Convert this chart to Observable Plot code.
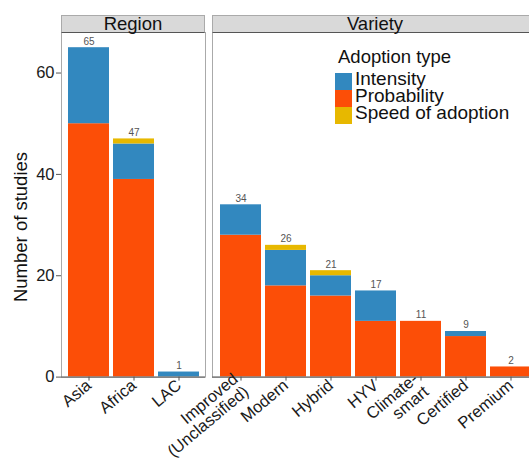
<!DOCTYPE html>
<html>
<head>
<meta charset="utf-8">
<script src="https://cdn.jsdelivr.net/npm/d3@7"></script>
<script src="https://cdn.jsdelivr.net/npm/@observablehq/plot@0.6"></script>
<style>
  html, body { margin: 0; padding: 0; background: #fff; overflow: hidden; }
  #wrap { position: relative; width: 529px; height: 458px; overflow: hidden; font-family: "Liberation Sans", Arial, sans-serif; color: #111; }
  #wrap > svg { position: absolute; top: 0; left: 0; max-width: none !important; }
  .strip { position: absolute; top: 15px; height: 18px; background: #d9d9d9; border: 1px solid #aaa; border-bottom: 1px solid #555; box-sizing: border-box; text-align: center; font-size: 18.5px; line-height: 16px; color: #111; white-space: nowrap; }
  .abs { position: absolute; white-space: nowrap; }
  .ytitle { left: -79px; top: 216px; width: 200px; height: 22px; line-height: 22px; text-align: center; font-size: 18.5px; transform: rotate(-90deg); }
  .ltitle { left: 338px; top: 48px; font-size: 18.5px; line-height: 18.5px; }
  .lrow { left: 335px; height: 17px; font-size: 19px; line-height: 17px; }
  .lrow .sw { position: absolute; left: 0; top: 3px; width: 17px; height: 16.5px; }
  .lrow .lab { position: absolute; left: 20px; top: 0; }
</style>
</head>
<body>
<div id="wrap"></div>
<script>
// ---- data ----
const adoptionTypes = ["Intensity", "Probability", "Speed of adoption"];
const adoptionColors = ["#3288bf", "#fc4e07", "#e7b800"];
const stackOrder = ["Probability", "Intensity", "Speed of adoption"];

const regionCategories = ["Asia", "Africa", "LAC"];
const regionProbability = [50, 39, 0];
const regionIntensity = [15, 7, 1];
const regionSpeed = [0, 1, 0];

const varietyCategories = ["Improved (Unclassified)", "Modern", "Hybrid", "HYV", "Climate-smart", "Certified", "Premium"];
const varietyTickLabels = ["Improved\n(Unclassified)", "Modern", "Hybrid", "HYV", "Climate-\nsmart", "Certified", "Premium"];
const varietyProbability = [28, 18, 16, 11, 11, 8, 2];
const varietyIntensity = [6, 7, 4, 6, 0, 1, 0];
const varietySpeed = [0, 1, 1, 0, 0, 0, 0];

const yTicks = [0, 20, 40, 60];
const yMax = 68;
const yTitle = "Number of studies";
const legendTitle = "Adoption type";

function toRows(cats, prob, inten, speed) {
  const rows = [];
  cats.forEach((c, i) => {
    rows.push({cat: c, type: "Probability", n: prob[i]});
    rows.push({cat: c, type: "Intensity", n: inten[i]});
    rows.push({cat: c, type: "Speed of adoption", n: speed[i]});
  });
  return rows;
}
function totals(cats, prob, inten, speed) {
  return cats.map((c, i) => ({cat: c, total: prob[i] + inten[i] + speed[i]}));
}

const H = 458, MT = 32, MB = 81.4;
const FONT = '"Liberation Sans", Arial, sans-serif';
const wrap = document.getElementById("wrap");

function panel({cats, tickLabels, prob, inten, speed, width, marginLeft, marginRight, withY}) {
  const rows = toRows(cats, prob, inten, speed);
  const tot = totals(cats, prob, inten, speed);
  return Plot.plot({
    width, height: H,
    marginLeft, marginRight, marginTop: MT, marginBottom: MB,
    style: {fontFamily: FONT, fontSize: "16.5px", color: "#1a1a1a", background: "transparent", overflow: "visible", maxWidth: "none"},
    x: {domain: cats, paddingInner: 0.1, paddingOuter: 0.15, axis: null},
    y: {domain: [0, yMax], axis: null},
    color: {domain: adoptionTypes, range: adoptionColors},
    marks: [
      Plot.barY(rows, {x: "cat", y: "n", fill: "type", order: stackOrder}),
      Plot.text(tot, {x: "cat", y: "total", text: d => String(d.total), dy: -3, lineAnchor: "bottom", fontSize: 10, fill: "#555"}),
      Plot.frame({stroke: "#aaa", strokeWidth: 1}),
      Plot.ruleY([0], {stroke: "#555"}),
      Plot.axisX({tickRotate: -40, tickSize: 4, tickPadding: 2, fontSize: 16.5, fill: "#1a1a1a", stroke: "#555", label: null,
        tickFormat: d => tickLabels[cats.indexOf(d)]}),
      withY ? Plot.axisY({ticks: yTicks, tickSize: 5, tickPadding: 2, fontSize: 16.5, fill: "#1a1a1a", stroke: "#555", label: null}) : null
    ]
  });
}

// Region panel spans x 61..205, Variety panel spans x 212..538 (cropped at the window edge)
const p1 = panel({cats: regionCategories, tickLabels: regionCategories, prob: regionProbability, inten: regionIntensity, speed: regionSpeed,
  width: 529, marginLeft: 61, marginRight: 324, withY: true});
wrap.appendChild(p1);

const p2 = panel({cats: varietyCategories, tickLabels: varietyTickLabels, prob: varietyProbability, inten: varietyIntensity, speed: varietySpeed,
  width: 539, marginLeft: 212, marginRight: 1, withY: false});
wrap.appendChild(p2);

function el(cls, text) {
  const d = document.createElement("div");
  d.className = cls;
  if (text != null) d.textContent = text;
  return d;
}

// strips
function strip(text, left, width) {
  const s = el("strip", text);
  s.style.left = left + "px";
  s.style.width = width + "px";
  wrap.appendChild(s);
}
strip("Region", 61, 144);
strip("Variety", 212, 326);

// y title
wrap.appendChild(el("abs ytitle", yTitle));

// legend
wrap.appendChild(el("abs ltitle", legendTitle));
adoptionTypes.forEach((a, i) => {
  const row = el("abs lrow");
  row.style.top = (70 + 17 * i) + "px";
  const sw = el("sw");
  sw.style.background = adoptionColors[i];
  row.appendChild(sw);
  row.appendChild(el("lab", a));
  wrap.appendChild(row);
});
</script>
</body>
</html>
